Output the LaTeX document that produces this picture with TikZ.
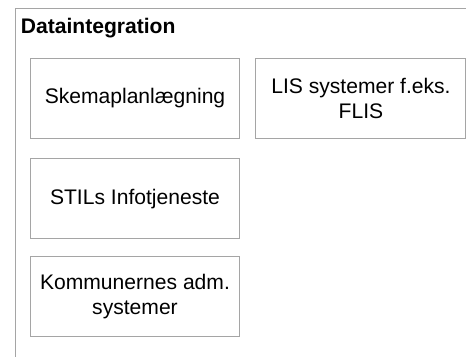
\documentclass[tikz,border=0pt]{standalone}
\usepackage{fontspec}
\setmainfont{Liberation Sans}
\usepackage{xcolor}
\usetikzlibrary{positioning}

\definecolor{linegray}{RGB}{165,165,165}

\begin{document}
\begin{tikzpicture}[
    x=0.02cm, y=-0.02cm,
    node distance=0.4cm and 0.3cm,
    sys/.style={rectangle, draw=linegray, line width=0.02cm, minimum width=4.2cm, minimum height=1.6cm, inner sep=0pt, align=center, font=\fontsize{12}{14.2}\selectfont},
    frame/.style={draw=linegray, line width=0.02cm}
]
    \useasboundingbox (0,0) rectangle (466,356);

    % Outer frame
    \draw[frame] (15,8) rectangle (490,380);
    \node[anchor=base west, inner sep=0pt, font=\bfseries\fontsize{12}{14.2}\selectfont] (title) at (20.5,33) {Dataintegration};

    % Systems
    \node[sys] (skema) at (135,98) {Skemaplanlægning};
    \node[sys, right=of skema] (lis) {LIS systemer f.eks.\\FLIS};
    \node[sys, below=of skema] (stils) {STILs Infotjeneste};
    \node[sys, below=0.34cm of stils] (komm) {Kommunernes adm.\\systemer};
\end{tikzpicture}
\end{document}
